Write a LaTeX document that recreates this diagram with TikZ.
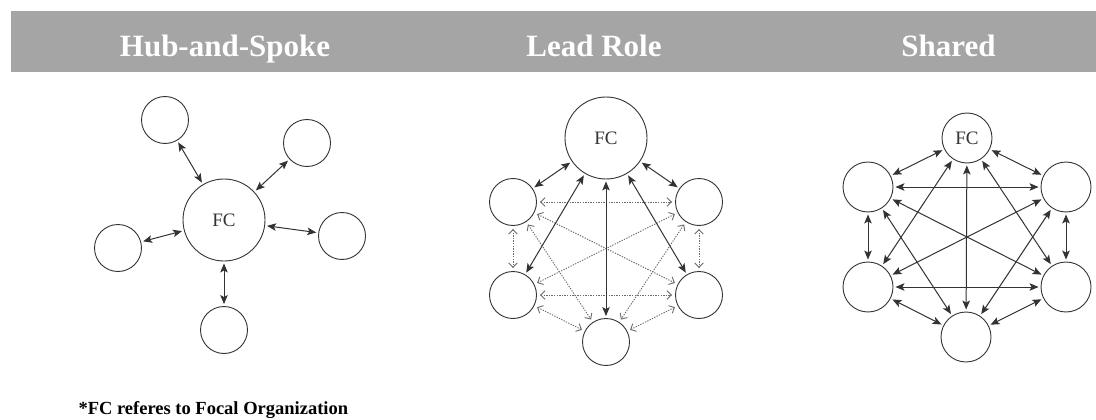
\documentclass[tikz,border=0pt]{standalone}
\usepackage{fontspec}
\setmainfont{Liberation Serif}
\usetikzlibrary{arrows.meta}
\definecolor{banner}{HTML}{A5A5A5}
\definecolor{ink}{HTML}{333333}
\definecolor{dotink}{HTML}{6A6A6A}
\tikzset{
 org/.style={circle, draw=ink, line width=0.9pt, inner sep=0pt, fill=white},
 bigorg/.style={org, minimum size=82pt},
 smallorg/.style={org, minimum size=47pt},
 shorg/.style={org, minimum size=50pt},
 link/.style={draw=ink, line width=1pt, {Stealth[length=9pt,width=7.5pt,inset=2pt]}-{Stealth[length=9pt,width=7.5pt,inset=2pt]}, shorten <=2pt, shorten >=2pt},
 weak/.style={draw=dotink, line width=0.9pt, dash pattern=on 1.3pt off 1.3pt, {Straight Barb[length=4.5pt,width=8.5pt]}-{Straight Barb[length=4.5pt,width=8.5pt]}, shorten <=3pt, shorten >=3pt},
 title/.style={text=white, anchor=base, font=\fontsize{31}{36}\selectfont\bfseries},
 fctext/.style={font=\fontsize{19}{22}\selectfont, text=ink}
}
\begin{document}
\begin{tikzpicture}[x=1pt,y=-1pt]
\fill[white] (0,0) rectangle (1096,420);
\useasboundingbox (0,0) rectangle (1096,420);
\fill[banner] (11,11) rectangle (1096,72);
\node[title] (t1) at (225,57) {Hub-and-Spoke};
\node[title] (t2) at (594,57) {Lead Role};
\node[title] (t3) at (948.5,57) {Shared};

% Hub-and-Spoke
\node[bigorg] (h0) at (224,220) {};
\node[fctext] (h0t) at (h0) {FC};
\node[smallorg] (h1) at (165,120) {};
\node[smallorg] (h2) at (307,143) {};
\node[smallorg] (h3) at (342,236) {};
\node[smallorg] (h4) at (224,330) {};
\node[smallorg] (h5) at (118,248) {};
\foreach \n in {h1,h2,h3,h4,h5} \draw[link] (h0) -- (\n);

% Lead Role
\node[bigorg] (l0) at (606,138) {};
\node[fctext] (l0t) at (l0) {FC};
\node[smallorg] (l1) at (699,202) {};
\node[smallorg] (l2) at (699,295) {};
\node[smallorg] (l3) at (606,342) {};
\node[smallorg] (l4) at (513,295) {};
\node[smallorg] (l5) at (513,202) {};
\foreach \a/\b in {l5/l1,l5/l4,l1/l2,l4/l2,l4/l3,l2/l3,l5/l2,l1/l4,l5/l3,l1/l3}
  \draw[weak] (\a) -- (\b);
\foreach \n in {l1,l2,l3,l4,l5} \draw[link] (l0) -- (\n);

% Shared
\node[shorg] (s0) at (967,138) {};
\node[fctext] (s0t) at (s0) {FC};
\node[shorg] (s1) at (1066,187) {};
\node[shorg] (s2) at (1066,287) {};
\node[shorg] (s3) at (966,337) {};
\node[shorg] (s4) at (868,287) {};
\node[shorg] (s5) at (868,187) {};
\foreach \a/\b in {s0/s1,s0/s2,s0/s3,s0/s4,s0/s5,s1/s2,s1/s3,s1/s4,s1/s5,s2/s3,s2/s4,s2/s5,s3/s4,s3/s5,s4/s5}
  \draw[link] (\a) -- (\b);

\node[anchor=base west, font=\fontsize{18.5}{22}\selectfont\bfseries] (note) at (75,414) {*FC referes to Focal Organization};
\end{tikzpicture}
\end{document}
